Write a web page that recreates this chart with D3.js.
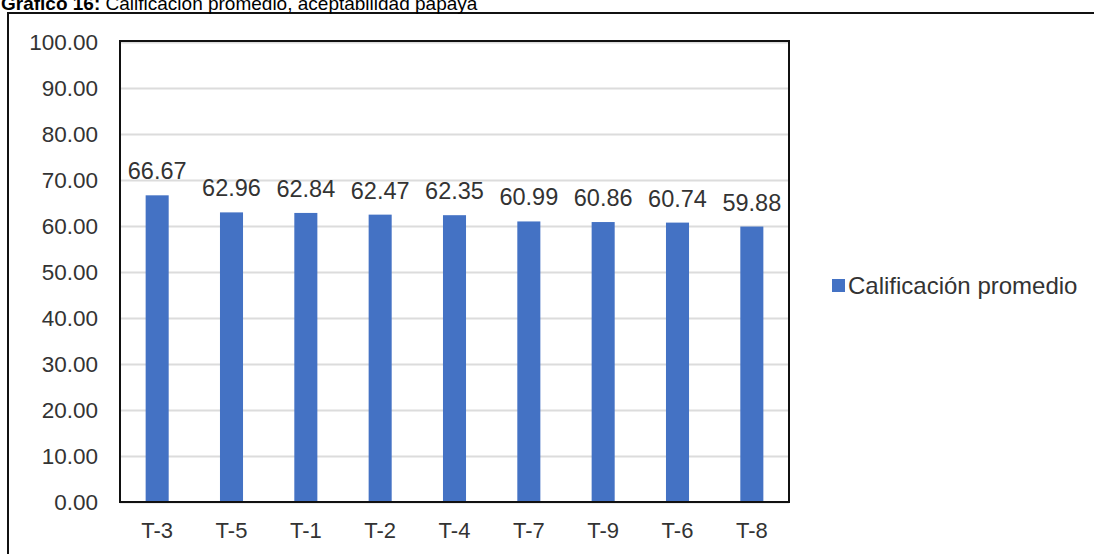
<!DOCTYPE html>
<html>
<head>
<meta charset="utf-8">
<script src="https://cdn.jsdelivr.net/npm/d3@7"></script>
<style>
  html, body { margin: 0; padding: 0; background: #fff; }
  svg { display: block; font-family: "Liberation Sans", Arial, sans-serif; }
</style>
</head>
<body>
<svg id="chart" width="1094" height="554"></svg>
<script>
// Average score per treatment (papaya acceptability)
const categories = ["T-3", "T-5", "T-1", "T-2", "T-4", "T-7", "T-9", "T-6", "T-8"];
const scores = [66.67, 62.96, 62.84, 62.47, 62.35, 60.99, 60.86, 60.74, 59.88];
const yTicks = [0, 10, 20, 30, 40, 50, 60, 70, 80, 90, 100];
const seriesName = "Calificación promedio";

const svg = d3.select("#chart");
const W = 1094, H = 554;
const plot = { left: 120, right: 789, top: 42, bottom: 502 };
const barColor = "#4472c4";
const textColor = "#333333";

// Outer frame (top and left edges)
svg.append("path")
  .attr("d", `M8,${H} L8,13 L${W},13`)
  .attr("fill", "none").attr("stroke", "#111").attr("stroke-width", 2);

// Title above the frame
const title = svg.append("text")
  .attr("x", 1).attr("y", 10)
  .attr("font-size", 19).attr("fill", "#000");
title.append("tspan").attr("font-weight", "bold").text("Gráfico 16:");
title.append("tspan").text(" Calificación promedio, aceptabilidad papaya");

const x = d3.scaleBand()
  .domain(categories)
  .range([plot.left, plot.right])
  .paddingInner(0.69)
  .paddingOuter(0.345);

const y = d3.scaleLinear()
  .domain([0, 100])
  .range([plot.bottom, plot.top]);

// Horizontal gridlines
svg.append("g")
  .attr("transform", `translate(${plot.left},0)`)
  .call(d3.axisLeft(y).tickValues(yTicks).tickSize(-(plot.right - plot.left)).tickFormat(""))
  .call(g => g.select(".domain").remove())
  .call(g => g.selectAll("line").attr("stroke", "#dcdcdc").attr("stroke-width", 2));

// Y tick labels
svg.append("g")
  .attr("transform", `translate(${plot.left},0)`)
  .call(d3.axisLeft(y).tickValues(yTicks).tickSize(0).tickPadding(22).tickFormat(d3.format(".2f")))
  .call(g => g.select(".domain").remove())
  .call(g => g.selectAll("text")
    .attr("font-size", 22.5).attr("fill", textColor)
    .attr("font-family", "Liberation Sans, Arial, sans-serif"));

// Bars
svg.append("g").selectAll("rect")
  .data(scores)
  .join("rect")
  .attr("x", (d, i) => x(categories[i]))
  .attr("y", d => y(d))
  .attr("width", x.bandwidth())
  .attr("height", d => y(0) - y(d))
  .attr("fill", barColor);

// Value labels
svg.append("g").selectAll("text")
  .data(scores)
  .join("text")
  .attr("x", (d, i) => x(categories[i]) + x.bandwidth() / 2)
  .attr("y", d => y(d) - 16)
  .attr("text-anchor", "middle")
  .attr("font-size", 23.5)
  .attr("fill", textColor)
  .text(d => d3.format(".2f")(d));

// X axis labels
svg.append("g")
  .attr("transform", `translate(0,${plot.bottom})`)
  .call(d3.axisBottom(x).tickSize(0).tickPadding(20))
  .call(g => g.select(".domain").remove())
  .call(g => g.selectAll("text")
    .attr("font-size", 22).attr("fill", textColor)
    .attr("font-family", "Liberation Sans, Arial, sans-serif"));

// Plot frame
svg.append("rect")
  .attr("x", plot.left).attr("y", plot.top - 1)
  .attr("width", plot.right - plot.left).attr("height", plot.bottom - plot.top + 1)
  .attr("fill", "none").attr("stroke", "#111").attr("stroke-width", 2);

// Legend
const legend = svg.append("g").attr("transform", "translate(832,279)");
legend.append("rect").attr("width", 13).attr("height", 13).attr("fill", barColor);
legend.append("text")
  .attr("x", 16).attr("y", 7).attr("dy", "0.35em")
  .attr("font-size", 24).attr("fill", textColor)
  .text(seriesName);
</script>
</body>
</html>
